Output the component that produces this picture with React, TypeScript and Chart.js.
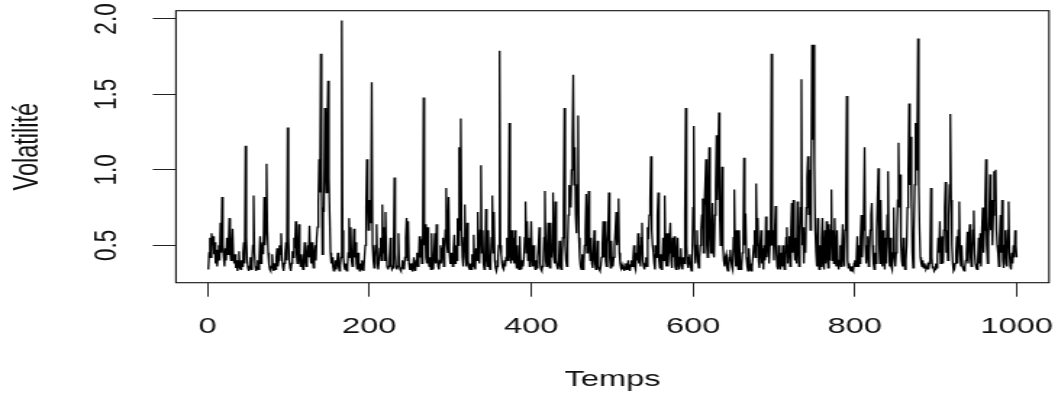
import React, { useEffect, useRef } from "react";
import { Chart, registerables } from "chart.js";

Chart.register(...registerables);

// Volatility series, t = 1..1000 (25 values per row)
const volatility: number[] = [
  .34,.45,.55,.42,.58,.5,.56,.44,.52,.38,.47,.36,.42,.5,.4,.65,.45,.82,.5,.42,.36,.48,.4,.55,.44,
  .5,.68,.45,.4,.5,.61,.42,.38,.44,.35,.4,.33,.37,.46,.35,.34,.4,.36,.45,.52,.38,1.16,.55,.4,.35,
  .33,.36,.42,.34,.38,.5,.83,.45,.36,.33,.35,.4,.34,.42,.56,.38,.45,.52,.44,.82,.5,.6,1.04,.6,.45,
  .38,.34,.33,.36,.44,.35,.33,.38,.34,.42,.48,.36,.4,.5,.44,.58,.42,.36,.33,.38,.45,.52,.4,1.28,.55,
  .4,.35,.33,.38,.46,.42,.55,.48,.66,.45,.38,.5,.64,.42,.36,.44,.38,.34,.42,.52,.4,.36,.44,.5,.42,
  .63,.45,.38,.52,.4,.35,.45,.5,.4,.55,.62,.78,1.07,.85,1.77,1.0,.44,.75,.72,1.41,1.05,.85,1.25,1.59,.95,
  .7,.45,.38,.42,.36,.33,.35,.4,.34,.38,.45,.36,.33,.37,.42,1.99,.6,.42,.36,.34,.38,.33,.36,.45,.68,
  .42,.62,.4,.36,.45,.61,.42,.52,.38,.34,.45,.36,.33,.38,.34,.4,.36,.33,.42,.5,.75,1.07,.78,.6,.8,
  .65,.72,1.58,.5,.4,.35,.42,.5,.64,.38,.34,.4,.48,.55,.4,.77,.45,.62,.4,.72,.45,.36,.34,.36,.42,
  .55,.38,.34,.35,.45,.95,.45,.36,.34,.36,.58,.38,.34,.33,.35,.4,.36,.34,.42,.55,.68,.4,.66,.38,.34,
  .34,.38,.33,.36,.42,.35,.33,.4,.45,.36,.4,.56,.42,.54,.38,.45,1.48,.5,.64,.42,.38,.62,.4,.36,.42,
  .34,.58,.36,.34,.44,.58,.38,.64,.42,.36,.34,.4,.5,.38,.48,.55,.36,.45,.6,.88,.5,.45,.82,.45,.38,
  .38,.45,.36,.48,.57,.38,.5,.4,.68,.5,1.15,.6,1.34,.6,.42,.36,.55,.77,.42,.36,.65,.4,.35,.34,.38,
  .34,.44,.36,.57,.36,.34,.48,.4,.72,.45,.38,.6,1.03,.45,.6,.38,.34,.42,.74,.42,.36,.6,.38,.34,.42,
  .55,.83,.45,.72,.4,.35,.33,.36,.42,.5,1.79,.5,.44,.38,.35,.34,.4,.36,.42,.55,.4,.62,1.31,.45,.38,
  .6,.4,.55,.38,.6,.4,.35,.5,.38,.34,.56,.36,.34,.4,.36,.42,.55,.79,.45,.66,.4,.55,.36,.45,.66,
  .42,.36,.5,.38,.34,.4,.35,.42,.5,.62,.38,.34,.33,.36,.4,.55,.86,.4,.36,.5,.65,.38,.35,.65,.42,
  .5,.85,.42,.38,.79,.4,.36,.34,.38,.53,.36,.34,.42,.55,.75,1.41,.5,.4,.36,.5,.7,.9,.8,.75,1.0,
  1.2,1.63,.9,1.15,.7,.58,.9,1.36,.55,.42,.36,.34,.44,.34,.38,.5,.6,.84,.45,.6,.86,.5,.4,.55,.38,
  .35,.45,.6,.38,.34,.4,.53,.36,.34,.33,.36,.42,.5,.66,.42,.66,.4,.36,.5,.6,.85,.42,.35,.53,.38,
  .36,.42,.5,.6,.72,.5,.55,.81,.45,.38,.35,.37,.34,.36,.33,.35,.38,.34,.36,.4,.35,.33,.37,.4,.36,
  .42,.5,.36,.34,.45,.4,.58,.38,.5,.36,.55,.65,.4,.36,.34,.38,.42,.36,.62,.54,.7,.8,1.09,.6,.5,
  .45,.38,.34,.5,.42,.7,.85,.4,.35,.44,.34,.38,.55,.4,.83,.42,.36,.58,.36,.45,.55,.65,.4,.35,.55,
  .42,.56,.36,.34,.45,.55,.38,.34,.42,.48,.36,.34,.42,.38,.7,1.41,.5,.38,.35,.42,.44,.36,.33,.45,.75,
  1.29,.5,.38,.5,.6,.4,.35,.42,.5,.6,.7,.81,.45,.75,.9,1.07,.5,.42,.85,1.15,.6,.45,.6,.78,.45,
  .42,.7,.9,1.23,.8,1.05,1.38,.7,.5,.7,1.02,.5,.4,.36,.42,.44,.35,.33,.36,.42,.47,.4,.36,.34,.55,
  .87,.45,.36,.6,.38,.34,.6,.4,.34,.36,.45,.55,1.08,.5,.71,.42,.36,.33,.48,.38,.34,.33,.36,.42,.5,
  .6,.42,.91,.5,.68,.4,.35,.5,.6,.38,.48,.34,.5,.4,.69,.42,.55,.6,.38,.5,.65,1.77,.5,.6,.4,
  .6,.76,.45,.36,.34,.5,.38,.34,.45,.36,.5,.38,.34,.4,.55,.62,.38,.5,.56,.36,.6,.78,.45,.8,.5,
  .4,.55,.38,.79,.5,.36,.55,.75,1.6,.5,.62,.38,.58,.45,.75,.95,1.09,.7,1.0,.6,.9,1.83,1.2,1.83,1.03,
  .6,.45,.36,.68,.38,.34,.5,.36,.55,.68,.4,.34,.6,.38,.66,.45,.35,.64,.4,.6,.87,.4,.6,.38,.68,
  .42,.36,.6,.38,.34,.4,.5,.36,.5,.64,.42,.36,.6,.85,1.49,.4,.35,.38,.34,.33,.36,.34,.33,.38,.4,
  .36,.42,.56,.36,.5,.38,.55,.7,.42,.6,.75,1.15,.5,.38,.45,.56,.36,.45,.6,.7,.78,.5,.38,.34,.45,
  .38,.6,.8,1.01,.5,.38,.8,.45,.36,.6,.42,.34,.55,.38,.7,.99,.5,.36,.55,.36,.34,.45,.75,.42,.36,
  .45,.6,.8,1.18,.75,.97,.5,.4,.36,.55,.38,.34,.4,.5,.75,1.0,1.44,.9,1.22,.8,.45,.35,.6,.9,1.31,
  1.0,1.2,1.87,.9,.6,.42,.38,.36,.4,.35,.38,.36,.34,.35,.37,.34,.38,.45,.88,.42,.35,.36,.33,.34,.38,
  .35,.42,.55,.45,.66,.38,.5,.56,.38,.6,.75,.92,.45,.6,.4,.7,.9,1.37,.8,.5,.38,.33,.34,.38,.45,
  .56,.38,.6,.79,.45,.36,.5,.36,.34,.33,.36,.4,.45,.59,.38,.55,.64,.42,.36,.45,.6,.73,.45,.38,.35,
  .34,.4,.55,.38,.58,.36,.6,.75,.45,.6,.8,1.07,.5,.38,.55,.7,.97,.6,.8,.5,.7,.99,.8,1.0,.6,
  .5,.45,.36,.55,.7,.45,.8,.4,.35,.5,.6,.38,.36,.6,.79,.45,.36,.34,.45,.38,.5,.42,.6,.5,.42,
];

const xTicks = [0, 200, 400, 600, 800, 1000];
const xTickLabels = ["0", "200", "400", "600", "800", "1000"];
const yTicks = [0.5, 1.0, 1.5, 2.0];
const yTickLabels = ["0.5", "1.0", "1.5", "2.0"];
const xTitle = "Temps";
const yTitle = "Volatilité";

// Canvas is drawn narrower and stretched horizontally (like the reference)
const CANVAS_W = 730;
const CANVAS_H = 396;
const FONT = "'Liberation Sans', Arial, Helvetica, sans-serif";

const boxPlugin = {
  id: "plotBox",
  afterDraw(chart: any) {
    const { ctx, chartArea: a } = chart;
    ctx.save();
    ctx.strokeStyle = "#111";
    ctx.lineWidth = 1.1;
    ctx.strokeRect(a.left, a.top, a.right - a.left, a.bottom - a.top);
    ctx.restore();
  },
};

const zeroPadding = (s: any) => {
  s.paddingTop = 0;
  s.paddingBottom = 0;
  s.paddingLeft = 0;
  s.paddingRight = 0;
};

export default function App() {
  const ref = useRef<HTMLCanvasElement | null>(null);

  useEffect(() => {
    const canvas = ref.current;
    if (!canvas) return;
    const points = volatility.map((v, i) => ({ x: i + 1, y: v }));
    const chart = new Chart(canvas, {
      type: "line",
      data: {
        datasets: [
          {
            data: points,
            borderColor: "#000",
            borderWidth: 1.3,
            pointRadius: 0,
            tension: 0,
            fill: false,
          },
        ],
      },
      options: {
        animation: false,
        responsive: false,
        devicePixelRatio: 1,
        parsing: false as any,
        normalized: true,
        layout: { padding: { top: 10.7, right: 6.2, bottom: 0, left: 0 } },
        plugins: {
          legend: { display: false },
          tooltip: { enabled: false },
        },
        scales: {
          x: {
            type: "linear",
            min: -38.96,
            max: 1039.96,
            afterBuildTicks: (s: any) => {
              s.ticks = xTicks.map((v) => ({ value: v }));
            },
            afterFit: (s: any) => {
              s.height = 113.3;
              zeroPadding(s);
            },
            grid: {
              display: true,
              drawOnChartArea: false,
              drawTicks: true,
              tickLength: 14,
              color: "#222",
              lineWidth: 1,
            },
            border: { display: false },
            ticks: {
              autoSkip: false,
              maxRotation: 0,
              minRotation: 0,
              padding: 17,
              color: "#111",
              font: { family: FONT, size: 22.5 },
              callback: (_v: any, i: number) => xTickLabels[i],
            },
            title: {
              display: true,
              text: xTitle,
              color: "#111",
              font: { family: FONT, size: 22.5 },
              padding: { top: 0, bottom: 2.6 },
            },
          },
          y: {
            type: "linear",
            min: 0.252,
            max: 2.055,
            afterBuildTicks: (s: any) => {
              s.ticks = yTicks.map((v) => ({ value: v }));
            },
            afterFit: (s: any) => {
              s.width = 121.4;
              zeroPadding(s);
            },
            grid: {
              display: true,
              drawOnChartArea: false,
              drawTicks: true,
              tickLength: 16,
              color: "#222",
              lineWidth: 1,
            },
            border: { display: false },
            ticks: {
              minRotation: 90,
              maxRotation: 90,
              crossAlign: "center",
              padding: 16,
              color: "#111",
              font: { family: FONT, size: 22.5 },
              callback: (_v: any, i: number) => yTickLabels[i],
            },
            title: {
              display: true,
              text: yTitle,
              color: "#111",
              font: { family: FONT, size: 23.5 },
              padding: { top: 5.9, bottom: 0 },
            },
          },
        },
      },
      plugins: [boxPlugin],
    });
    return () => chart.destroy();
  }, []);

  return (
    <div style={{ position: "fixed", left: 0, top: 0, width: 1058, height: 396, background: "#fff" }}>
      <canvas
        ref={ref}
        width={CANVAS_W}
        height={CANVAS_H}
        style={{ width: "1058px", height: "396px", display: "block" }}
      />
    </div>
  );
}
